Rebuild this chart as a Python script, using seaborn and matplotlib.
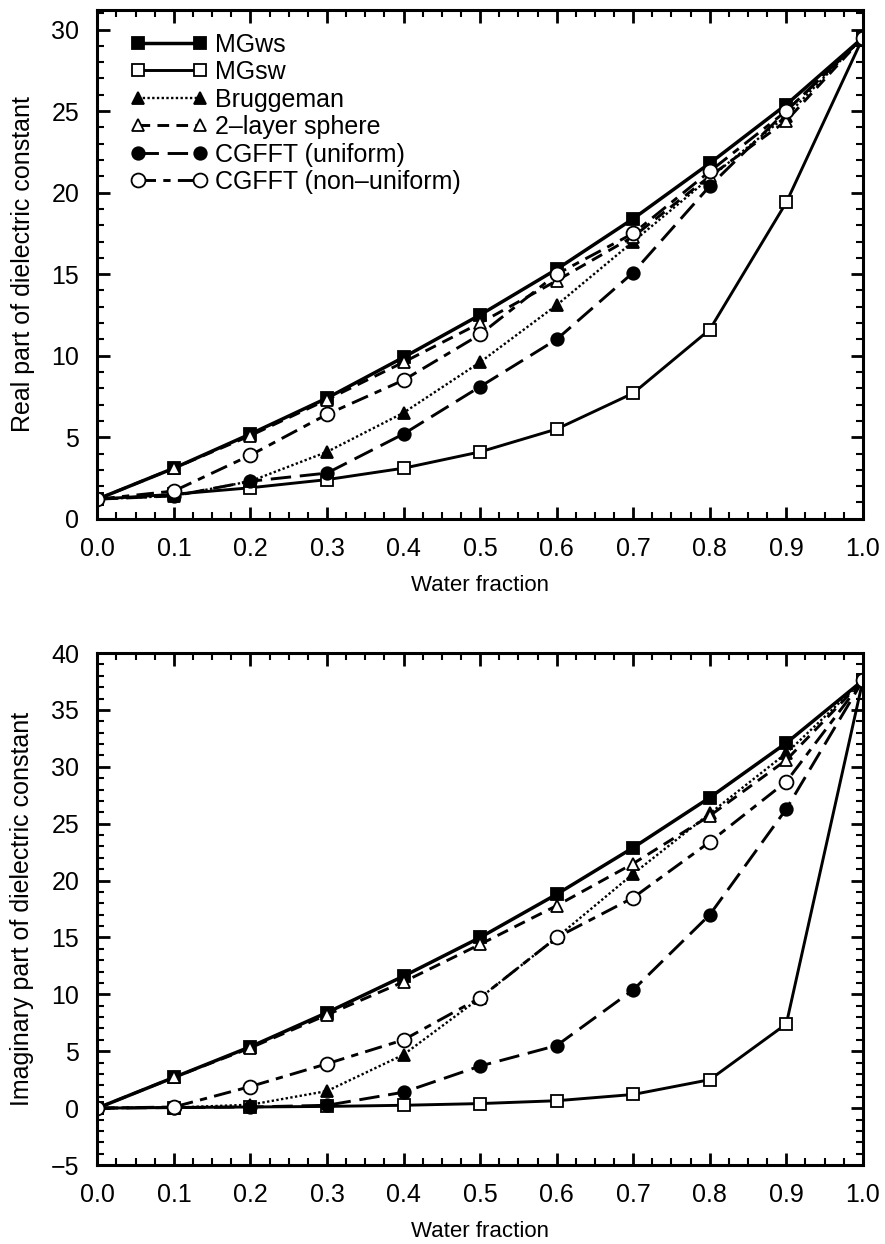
import numpy as np
import pandas as pd
import seaborn as sns
import matplotlib
matplotlib.use("Agg")
import matplotlib.pyplot as plt
from matplotlib.ticker import MultipleLocator, FormatStrFormatter

water_fraction = [0.0, 0.1, 0.2, 0.3, 0.4, 0.5, 0.6, 0.7, 0.8, 0.9, 1.0]
series_names = ["MGws", "MGsw", "Bruggeman", "2\u2013layer sphere",
                "CGFFT (uniform)", "CGFFT (non\u2013uniform)"]

# Real part of dielectric constant
real_mgws = [1.2, 3.1, 5.2, 7.4, 9.9, 12.5, 15.3, 18.4, 21.8, 25.4, 29.5]
real_mgsw = [1.2, 1.5, 1.9, 2.4, 3.1, 4.1, 5.5, 7.7, 11.6, 19.4, 29.5]
real_brug = [1.2, 1.4, 2.3, 4.1, 6.5, 9.6, 13.1, 17.0, 20.9, 24.7, 29.5]
real_2lay = [1.2, 3.1, 5.1, 7.3, 9.6, 12.0, 14.6, 17.3, 21.0, 24.4, 29.5]
real_cgu = [1.2, 1.4, 2.3, 2.8, 5.2, 8.1, 11.0, 15.1, 20.4, 25.0, 29.5]
real_cgn = [1.2, 1.7, 3.9, 6.4, 8.5, 11.3, 15.0, 17.5, 21.3, 25.0, 29.5]

# Imaginary part of dielectric constant
imag_mgws = [0.0, 2.7, 5.4, 8.4, 11.6, 15.0, 18.8, 22.9, 27.3, 32.1, 37.6]
imag_mgsw = [0.0, 0.05, 0.1, 0.15, 0.25, 0.4, 0.65, 1.2, 2.5, 7.4, 37.6]
imag_brug = [0.0, 0.05, 0.3, 1.5, 4.7, 9.7, 15.0, 20.6, 25.9, 31.2, 37.6]
imag_2lay = [0.0, 2.7, 5.3, 8.2, 11.1, 14.4, 17.8, 21.5, 25.7, 30.6, 37.6]
imag_cgu = [0.0, 0.05, 0.1, 0.25, 1.4, 3.7, 5.5, 10.4, 17.0, 26.3, 37.6]
imag_cgn = [0.0, 0.1, 1.9, 3.9, 6.0, 9.7, 15.0, 18.5, 23.4, 28.7, 37.6]

real_values = [real_mgws, real_mgsw, real_brug, real_2lay, real_cgu, real_cgn]
imag_values = [imag_mgws, imag_mgsw, imag_brug, imag_2lay, imag_cgu, imag_cgn]

styles = [
    dict(marker="s", mfc="black", ls="-", lw=2.5, ms=8),
    dict(marker="s", mfc="white", ls="-", lw=2.1, ms=8),
    dict(marker="^", mfc="black", ls=(0, (1, 1)), lw=1.7, ms=9),
    dict(marker="^", mfc="white", ls=(0, (4, 2.5)), lw=2.1, ms=9),
    dict(marker="o", mfc="black", ls=(0, (7, 3)), lw=2.1, ms=9),
    dict(marker="o", mfc="white", ls=(0, (6, 2.5, 2.5, 2.5)), lw=2.1, ms=10),
]

sns.set_theme(style="ticks")
plt.rcParams["font.family"] = ["Liberation Sans", "DejaVu Sans"]
plt.rcParams.update({"text.color": "black", "axes.labelcolor": "black",
                     "xtick.color": "black", "ytick.color": "black",
                     "xtick.labelcolor": "black", "ytick.labelcolor": "black"})

fig = plt.figure(figsize=(8.85, 12.44), dpi=100)
ax1 = fig.add_axes([0.110, 0.583, 0.865, 0.409])
ax2 = fig.add_axes([0.110, 0.0635, 0.865, 0.4115])


def draw(ax, values):
    for name, vals, st in zip(series_names, values, styles):
        df = pd.DataFrame({"x": water_fraction, "y": vals})
        sns.lineplot(data=df, x="x", y="y", ax=ax, color="black",
                     marker=st["marker"], markerfacecolor=st["mfc"],
                     markeredgecolor="black", markeredgewidth=1.3,
                     markersize=st["ms"], linestyle=st["ls"],
                     linewidth=st["lw"], label=name, legend=False)


draw(ax1, real_values)
draw(ax2, imag_values)

for ax, ylim, ylabel in [(ax1, (0, 31.2), "Real part of dielectric constant"),
                         (ax2, (-5, 40), "Imaginary part of dielectric constant")]:
    ax.set_xlim(0, 1.0)
    ax.set_ylim(*ylim)
    ax.xaxis.set_major_locator(MultipleLocator(0.1))
    ax.xaxis.set_minor_locator(MultipleLocator(0.025))
    ax.yaxis.set_major_locator(MultipleLocator(5))
    ax.yaxis.set_minor_locator(MultipleLocator(1))
    ax.xaxis.set_major_formatter(FormatStrFormatter("%.1f"))
    ax.tick_params(which="both", direction="in", top=True, right=True,
                   color="black", labelcolor="black", labelsize=18)
    ax.tick_params(axis="x", which="major", pad=13)
    ax.tick_params(axis="y", which="major", pad=13)
    ax.tick_params(which="major", length=9, width=2)
    ax.tick_params(which="minor", length=5, width=1.5)
    for sp in ax.spines.values():
        sp.set_linewidth(2.2)
        sp.set_color("black")
    ax.set_xlabel("Water fraction", fontsize=16, labelpad=10, color="black")
    ax.set_ylabel(ylabel, fontsize=18, labelpad=12, color="black")
    ticks = ax.get_yticks()
    ax.set_yticks(ticks)
    ax.set_yticklabels([("\u2212" + str(int(-t))) if t < 0 else str(int(t))
                        for t in ticks])
    ax.set_ylim(*ylim)

leg = ax1.legend(loc="upper left", bbox_to_anchor=(0.02, 0.99), frameon=False,
                 numpoints=2, handlelength=3.1, fontsize=18,
                 labelspacing=0.14, handletextpad=0.3, borderaxespad=0.3,
                 labelcolor="black")

fig.savefig("out.png", dpi=100)
